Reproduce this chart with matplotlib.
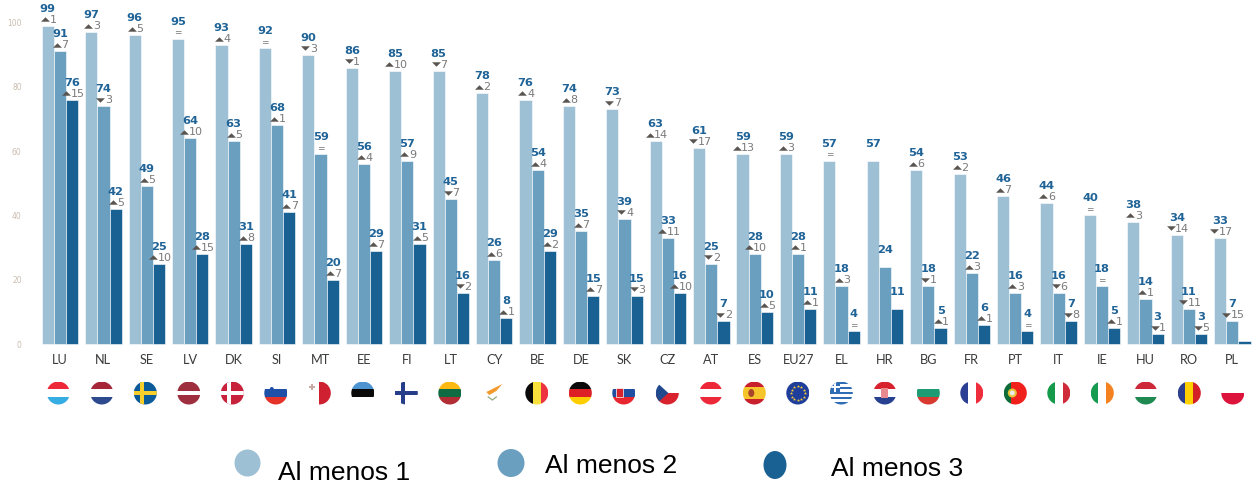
import matplotlib
matplotlib.use("Agg")
import matplotlib.pyplot as plt
from matplotlib.patches import Circle, Ellipse, Polygon, Rectangle
from matplotlib.transforms import ScaledTranslation
import numpy as np

countries = ["LU", "NL", "SE", "LV", "DK", "SI", "MT", "EE", "FI", "LT", "CY", "BE", "DE", "SK",
             "CZ", "AT", "ES", "EU27", "EL", "HR", "BG", "FR", "PT", "IT", "IE", "HU", "RO", "PL"]
al_menos_1 = [99, 97, 96, 95, 93, 92, 90, 86, 85, 85, 78, 76, 74, 73,
              63, 61, 59, 59, 57, 57, 54, 53, 46, 44, 40, 38, 34, 33]
al_menos_2 = [91, 74, 49, 64, 63, 68, 59, 56, 57, 45, 26, 54, 35, 39,
              33, 25, 28, 28, 18, 24, 18, 22, 16, 16, 18, 14, 11, 7]
al_menos_3 = [76, 42, 25, 28, 31, 41, 20, 29, 31, 16, 8, 29, 15, 15,
              16, 7, 10, 11, 4, 11, 5, 6, 4, 7, 5, 3, 3, 1]
# change against previous wave, 0 is "=", None is no mark
delta_1 = [1, 3, 5, 0, 4, 0, -3, -1, 10, -7, 2, 4, 8, -7,
           14, -17, 13, 3, 0, None, 6, 2, 7, 6, 0, 3, -14, -17]
delta_2 = [7, -3, 5, 10, 5, 1, 0, 4, 9, -7, 6, 4, 7, -4,
           11, -2, 10, 1, 3, None, -1, 3, 3, -6, 0, 1, -11, -15]
delta_3 = [15, 5, 10, 15, 8, 7, 7, 7, 5, -2, 1, 2, 7, -3,
           10, -2, 5, 1, 0, None, 1, 1, 0, -8, 1, -1, -5, None]
unlabelled_3 = ["PL"]
series_names = ["Al menos 1", "Al menos 2", "Al menos 3"]
y_ticks = [0, 20, 40, 60, 80, 100]

# flag stripes, top to bottom or left to right
flags_h = {
    "LU": ["#ED2939", "white", "#35ACE2"], "NL": ["#A6263A", "white", "#2E4A8E"],
    "SI": ["white", "#1E50A8", "#E63329"], "EE": ["#4D94D1", "#0A0A0A", "white"],
    "LT": ["#FDB913", "#0E6B42", "#B32D35"], "DE": ["#0A0A0A", "#DD1F26", "#FFCE00"],
    "SK": ["white", "#1E4FA0", "#E8262F"], "AT": ["#ED2939", "white", "#ED2939"],
    "HR": ["#D8232E", "white", "#27408F"], "BG": ["white", "#1D9B72", "#D83A30"],
    "HU": ["#CE2939", "white", "#1E8A52"], "PL": ["white", "#DC143C"],
    "CZ": ["white", "#D8232E"], "LV": ["#9E2F3F", "#9E2F3F", "white", "#9E2F3F", "#9E2F3F"],
    "ES": ["#C8202C", "#F5C52B", "#F5C52B", "#C8202C"],
}
flags_v = {
    "MT": ["white", "#CE2030"], "BE": ["#0A0A0A", "#F7DF3C", "#EE3340"],
    "FR": ["#2B3F94", "white", "#EE2E3C"], "IT": ["#149A4A", "white", "#CF2B3B"],
    "IE": ["#169B51", "white", "#F58220"], "RO": ["#2B3F8E", "#FFD100", "#D32027"],
    "PT": ["#0D6B38", "#F0201D", "#F0201D"],
}
crosses = {"SE": ("#0B5A9A", "#F7CE2A"), "DK": ("#C8213B", "white"), "FI": ("white", "#263D8A")}

colors = ["#9EC0D4", "#6B9FBF", "#186192"]
W, H = 1254, 487
fig = plt.figure(figsize=(W / 100, H / 100), dpi=100, facecolor="white")
left, right, top, bottom = 38.3, 1254.0, 22.5, 344.0
ax = fig.add_axes([left / W, 1 - bottom / H, (right - left) / W, (bottom - top) / H])
x = np.arange(len(countries))
bw = 0.28

tri_up = [(-1, -0.5), (1, -0.5), (0, 0.5), (-1, -0.5)]
tri_dn = [(-1, 0.5), (1, 0.5), (0, -0.5), (-1, 0.5)]

for k, (vals, deltas) in enumerate(zip([al_menos_1, al_menos_2, al_menos_3], [delta_1, delta_2, delta_3])):
    xs = x + (k - 1) * bw
    ax.bar(xs, vals, width=bw, color=colors[k], edgecolor="white", linewidth=0.4, zorder=2, clip_on=False)
    for i, (xv, v, d) in enumerate(zip(xs, vals, deltas)):
        if k == 2 and countries[i] in unlabelled_3:
            continue
        ax.annotate(str(v), (xv, v), xytext=(0, 17 * 0.72), textcoords="offset points", ha="center", va="center",
                    fontsize=8.2, fontweight="bold", color="#1F6397", zorder=5, annotation_clip=False)
        if d is None:
            continue
        if d == 0:
            ax.annotate("=", (xv, v), xytext=(0, 6 * 0.72), textcoords="offset points", ha="center", va="center",
                        fontsize=6.5, color="#777777", zorder=5, annotation_clip=False)
            continue
        txt = str(abs(d))
        tx = -3.0 if len(txt) == 1 else -6.0
        ax.plot([xv], [v], marker=tri_up if d > 0 else tri_dn, ms=6.4, color="#5A5550", mew=0, ls="none", zorder=5,
                clip_on=False, transform=ax.transData + ScaledTranslation(tx / 100, 6.5 / 100, fig.dpi_scale_trans))
        ax.annotate(txt, (xv, v), xytext=((tx + 4.5) * 0.72, 6 * 0.72), textcoords="offset points", ha="left",
                    va="center", fontsize=8, color="#7A7A7A", zorder=5, annotation_clip=False)

ax.set_xlim(-0.5, len(countries) - 0.5)
ax.set_ylim(0, 100)
ax.set_yticks(y_ticks)
ax.set_yticklabels([str(t) for t in y_ticks], fontsize=5.5, color="#C9BDB0")
ax.set_xticks(x)
ax.set_xticklabels(countries, fontsize=9.2, color="#3B3B3B", family=["Lato", "DejaVu Sans"])
ax.tick_params(axis="both", length=0)
ax.tick_params(axis="y", pad=12)
ax.tick_params(axis="x", pad=7.5)
for s in ax.spines.values():
    s.set_visible(False)

# overlay in pixels for the flags and the legend
fa = fig.add_axes([0, 0, 1, 1], facecolor="none")
fa.set_xlim(0, W)
fa.set_ylim(H, 0)
fa.axis("off")
R = 11.5
fy = 393


def clipped(artist, clip):
    fa.add_patch(artist)
    artist.set_clip_path(clip)


def flag(code, cx):
    clip = Circle((cx, fy), R, transform=fa.transData)
    x0, y0 = cx - R, fy - R
    if code in flags_h:
        st = flags_h[code]
        h = 2 * R / len(st)
        for j, c in enumerate(st):
            clipped(Rectangle((x0, y0 + j * h), 2 * R, h, color=c, lw=0), clip)
    elif code in flags_v:
        st = flags_v[code]
        w = 2 * R / len(st)
        for j, c in enumerate(st):
            clipped(Rectangle((x0 + j * w, y0), w, 2 * R, color=c, lw=0), clip)
    elif code in crosses:
        bg, fg = crosses[code]
        clipped(Rectangle((x0, y0), 2 * R, 2 * R, color=bg, lw=0), clip)
        clipped(Rectangle((cx - 5.5, y0), 4.5, 2 * R, color=fg, lw=0), clip)
        clipped(Rectangle((x0, fy - 2.2), 2 * R, 4.4, color=fg, lw=0), clip)
    if code == "SI":
        fa.add_patch(Circle((cx - 4, fy - 4), 2, color="#1E50A8", lw=0))
    elif code == "SK":
        fa.add_patch(Rectangle((cx - 8, fy - 5), 7, 9, color="#D8232E", lw=0.5, ec="white"))
    elif code == "MT":
        fa.plot([cx - 7], [fy - 6], marker="P", ms=4, color="#C9A8A8", mew=0)
    elif code == "CZ":
        clipped(Polygon([(x0, y0), (cx + 1, fy), (x0, y0 + 2 * R)], color="#214A8E", lw=0), clip)
    elif code == "ES":
        fa.add_patch(Ellipse((cx - 3, fy), 6, 8, color="#A8452A", lw=0))
    elif code == "PT":
        fa.add_patch(Circle((cx - 3, fy), 4.5, color="#E8C33A", lw=0))
        fa.add_patch(Circle((cx - 3, fy), 2.4, color="#EDEDED", lw=0))
    elif code == "HR":
        fa.add_patch(Rectangle((cx - 3.5, fy - 5), 7, 10, color="#E88A90", lw=0))
    elif code == "EL":
        for j in range(9):
            clipped(Rectangle((x0, y0 + j * 2 * R / 9), 2 * R, 2 * R / 9, color="#2F6DB5" if j % 2 == 0 else "white", lw=0), clip)
        clipped(Rectangle((x0, y0), 10, 10.2, color="#2F6DB5", lw=0), clip)
        clipped(Rectangle((x0 + 4, y0), 2, 10.2, color="white", lw=0), clip)
        clipped(Rectangle((x0, y0 + 4.1), 10, 2, color="white", lw=0), clip)
    elif code == "EU":
        clipped(Rectangle((x0, y0), 2 * R, 2 * R, color="#1F3D9A", lw=0), clip)
        ang = np.arange(12) * np.pi / 6
        fa.plot(cx + 7 * np.cos(ang), fy + 7 * np.sin(ang), ls="none", marker="*", ms=2.5, color="#F0C93A", mew=0)
    elif code == "CY":
        fa.add_patch(Polygon([(cx - 7, fy - 1), (cx + 1, fy - 5), (cx + 9, fy - 9), (cx + 3, fy - 2), (cx - 4, fy + 2)],
                             color="#F39A2D", lw=0))
        fa.plot([cx - 5, cx - 1, cx + 3], [fy + 4, fy + 7, fy + 4], color="#9DB08A", lw=1)


for i, code in enumerate(countries):
    flag("EU" if code == "EU27" else code, 58.3 + 43.5 * i)

# legend, positions are uneven in the original
fa.add_patch(Ellipse((247.5, 463), 26, 27, color=colors[0], lw=0))
fa.add_patch(Ellipse((511, 463), 27, 28, color=colors[1], lw=0))
fa.add_patch(Ellipse((775, 465), 23, 28, color=colors[2], lw=0))
for name, tx, ty in zip(series_names, [278, 545, 831], [480.5, 473, 476]):
    fa.text(tx, ty, name, fontsize=19, color="black", ha="left", va="baseline", family=["Liberation Sans", "DejaVu Sans"])

fig.savefig("out.png", dpi=100)
